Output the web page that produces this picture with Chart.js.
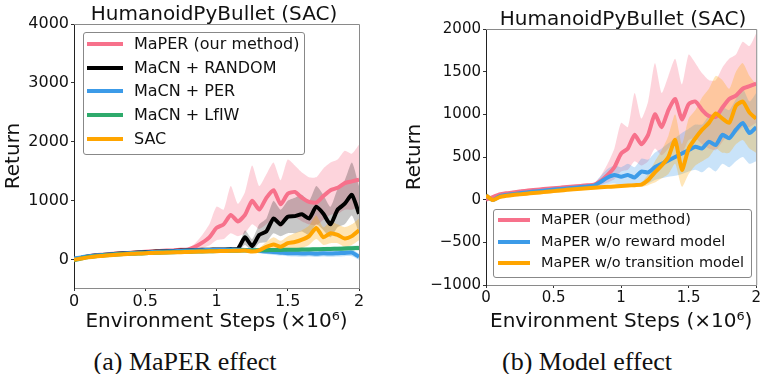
<!DOCTYPE html>
<html>

<head>
  <title>HumanoidPyBullet (SAC)</title>
  <style>
    body { margin: 0; background: #fff; width: 762px; height: 374px; position: relative; overflow: hidden; }
    .box { position: absolute; top: 0; width: 381px; height: 334px; }
    .legend { position: absolute; border: 1px solid #888; border-radius: 3px; background: rgba(255,255,255,0.85);
      font-family: "DejaVu Sans"; color: #111; box-sizing: border-box; }
    .legend div { position: absolute; white-space: nowrap; }
    .legend span { position: absolute; height: 4px; }
    .ttl { position: absolute; font-family: "DejaVu Sans"; font-size: 20px; color: #111; line-height: 1;
      transform: translate(-50%, -50%); white-space: nowrap; }
    .cap { position: absolute; top: 347px; font-family: "Liberation Serif"; font-size: 26px; color: #111;
      transform: translateX(-50%); white-space: nowrap; }
  </style>
</head>

<body>
  <div class="box" style="left:0"><canvas id="chartA"></canvas></div>
  <div class="box" style="left:381px"><canvas id="chartB"></canvas></div>
  <div class="ttl" style="left:214px;top:13px">HumanoidPyBullet (SAC)</div>
  <div class="ttl" style="left:623px;top:18px">HumanoidPyBullet (SAC)</div>
  <div class="legend" id="legA" style="left:83px;top:32px;width:222px;height:123px;font-size:16px"></div>
  <div class="legend" id="legB" style="left:493px;top:209px;width:259px;height:69px;font-size:14.5px"></div>
  <div class="cap" style="left:185px">(a) MaPER effect</div>
  <div class="cap" style="left:587px">(b) Model effect</div>
  <script src="https://cdn.jsdelivr.net/npm/chart.js"></script>
  <script>
    // environment steps (x 10^6)
    const steps = [0, 0.05, 0.1, 0.15, 0.2, 0.25, 0.3, 0.35, 0.4, 0.45, 0.5, 0.55, 0.6, 0.65, 0.7, 0.75, 0.8, 0.85, 0.9, 0.95,
      1.0, 1.05, 1.1, 1.15, 1.2, 1.25, 1.3, 1.35, 1.4, 1.45, 1.5, 1.55, 1.6, 1.65, 1.7, 1.75, 1.8, 1.85, 1.9, 1.95, 2.0];
    const xTicks = [0, 0.5, 1, 1.5, 2];
    const yTicksA = [0, 1000, 2000, 3000, 4000];
    const yTicksB = [-1000, -500, 0, 500, 1000, 1500, 2000];

    // MaPER (our method) - same run in both panels
    const maperMean = [0, 30, 60, 75, 85, 95, 105, 112, 120, 128, 135, 140, 148, 155, 160, 168, 175, 220, 290, 380,
      540, 600, 760, 650, 760, 1000, 850, 1050, 1180, 940, 1120, 1150, 1050, 980, 970, 1080, 1180, 1220, 1300, 1330, 1360];
    const maperLow = [-20, 10, 40, 55, 65, 75, 85, 92, 100, 108, 115, 120, 128, 135, 140, 148, 155, 170, 200, 240,
      330, 350, 450, 400, 450, 600, 520, 600, 700, 550, 700, 720, 650, 600, 580, 680, 760, 780, 850, 850, 900];
    const maperHigh = [20, 50, 80, 95, 105, 115, 125, 132, 140, 148, 155, 160, 168, 175, 180, 188, 195, 280, 420, 600,
      900, 850, 1250, 950, 1150, 1600, 1250, 1450, 1650, 1350, 1700, 1600, 1480, 1400, 1400, 1550, 1650, 1700, 1850, 1800, 1950];

    // (a) baselines
    const randomMean = [10, 30, 55, 70, 80, 90, 100, 108, 115, 122, 130, 135, 140, 145, 150, 155, 160, 165, 170, 170,
      175, 175, 180, 185, 380, 230, 420, 480, 700, 600, 730, 740, 770, 700, 900, 780, 600, 850, 950, 1100, 780];
    const randomLow = [-10, 10, 35, 50, 60, 70, 80, 88, 95, 102, 110, 115, 120, 125, 130, 135, 140, 145, 150, 150,
      150, 150, 150, 150, 250, 150, 280, 300, 450, 400, 450, 450, 480, 420, 600, 500, 380, 550, 600, 750, 450];
    const randomHigh = [30, 50, 75, 90, 100, 110, 120, 128, 135, 142, 150, 155, 160, 165, 170, 175, 180, 185, 190, 190,
      200, 200, 210, 220, 500, 350, 600, 700, 1000, 850, 1000, 1050, 1100, 1000, 1250, 1100, 900, 1200, 1350, 1650, 1250];

    const perMean = [20, 40, 60, 72, 82, 90, 98, 105, 112, 118, 124, 130, 135, 140, 145, 150, 155, 160, 162, 165,
      168, 170, 172, 170, 165, 160, 150, 140, 130, 120, 110, 110, 105, 110, 100, 110, 105, 110, 115, 120, 50];
    const perLow = [5, 25, 45, 57, 67, 75, 83, 90, 97, 103, 109, 115, 120, 125, 130, 135, 140, 145, 147, 150,
      150, 150, 150, 145, 135, 125, 110, 95, 80, 70, 60, 55, 50, 55, 45, 55, 50, 55, 60, 60, 0];
    const perHigh = [35, 55, 75, 87, 97, 105, 113, 120, 127, 133, 139, 145, 150, 155, 160, 165, 170, 175, 177, 180,
      186, 190, 194, 195, 195, 195, 190, 185, 180, 170, 160, 165, 160, 165, 155, 165, 160, 165, 170, 180, 100];

    const lfiwMean = [-10, 20, 45, 60, 70, 80, 88, 95, 100, 105, 110, 115, 120, 124, 128, 132, 135, 138, 141, 144,
      147, 150, 152, 154, 156, 158, 160, 162, 164, 166, 168, 170, 172, 175, 178, 180, 183, 186, 190, 195, 200];
    const lfiwLow = [-25, 5, 30, 45, 55, 65, 73, 80, 85, 90, 95, 100, 105, 109, 113, 117, 120, 123, 126, 129,
      130, 132, 133, 134, 135, 136, 137, 138, 139, 140, 140, 141, 142, 143, 145, 146, 148, 150, 152, 155, 158];
    const lfiwHigh = [5, 35, 60, 75, 85, 95, 103, 110, 115, 120, 125, 130, 135, 139, 143, 147, 150, 153, 156, 159,
      164, 168, 171, 174, 177, 180, 183, 186, 189, 192, 196, 199, 202, 207, 211, 214, 218, 222, 228, 235, 242];

    const sacMean = [0, 20, 40, 55, 65, 75, 85, 92, 100, 105, 110, 115, 118, 122, 125, 128, 132, 135, 140, 142,
      145, 148, 150, 152, 155, 140, 160, 220, 260, 220, 280, 300, 340, 400, 540, 380, 450, 420, 360, 400, 500];
    const sacLow = [-15, 5, 25, 40, 50, 60, 70, 77, 85, 90, 95, 100, 103, 107, 110, 113, 117, 120, 125, 127,
      130, 132, 134, 135, 135, 115, 130, 150, 170, 140, 180, 180, 200, 250, 350, 250, 280, 280, 220, 250, 330];
    const sacHigh = [15, 35, 55, 70, 80, 90, 100, 107, 115, 120, 125, 130, 133, 137, 140, 143, 147, 150, 155, 157,
      160, 164, 166, 170, 180, 170, 200, 300, 380, 320, 400, 450, 500, 580, 750, 550, 650, 600, 550, 600, 700];

    // (b) ablations
    const noRewardMean = [50, -5, 40, 55, 65, 75, 85, 95, 102, 110, 118, 125, 132, 140, 148, 155, 165, 210, 260, 290,
      270, 290, 260, 330, 320, 380, 420, 460, 500, 540, 580, 620, 600, 680, 640, 760, 720, 820, 900, 780, 850];
    const noRewardLow = [30, -25, 20, 35, 45, 55, 65, 75, 82, 90, 98, 105, 112, 120, 128, 135, 140, 160, 180, 190,
      170, 180, 160, 200, 190, 230, 250, 270, 280, 300, 330, 350, 320, 380, 330, 420, 380, 450, 500, 420, 450];
    const noRewardHigh = [70, 15, 60, 75, 85, 95, 105, 115, 122, 130, 138, 145, 152, 160, 168, 175, 190, 280, 360, 400,
      380, 420, 380, 480, 470, 550, 600, 660, 720, 780, 830, 880, 880, 980, 950, 1080, 1050, 1180, 1300, 1150, 1250];

    const noTransMean = [50, -5, 30, 45, 55, 62, 70, 78, 85, 92, 100, 108, 115, 122, 128, 135, 140, 145, 150, 155,
      160, 165, 170, 175, 230, 320, 400, 500, 700, 350, 600, 720, 820, 900, 1010, 950, 900, 1100, 1150, 1020, 950];
    const noTransLow = [30, -25, 10, 25, 35, 42, 50, 58, 65, 72, 80, 88, 95, 102, 108, 115, 120, 125, 130, 135,
      140, 145, 150, 150, 170, 200, 250, 300, 420, 150, 300, 400, 450, 500, 600, 550, 550, 650, 700, 600, 550];
    const noTransHigh = [70, 15, 50, 65, 75, 82, 90, 98, 105, 112, 120, 128, 135, 142, 148, 155, 160, 165, 170, 175,
      180, 185, 190, 200, 300, 450, 580, 750, 1000, 650, 950, 1050, 1200, 1300, 1450, 1400, 1300, 1500, 1600, 1450, 1350];

    const PINK = '#f7718b', BLACK = '#000000', BLUE = '#3c9be8', GREEN = '#2eaa6c', ORANGE = '#ffa500';

    function pts(arr) {
      return steps.map((s, i) => ({ x: s, y: arr[i] }));
    }

    // band (upper filled to lower) + mean line; bands all sit under the lines
    // (higher order is drawn first)
    function series(label, color, bandColor, mean, low, high, ord) {
      return [
        { label: label + ' hi', data: pts(high), borderWidth: 0, pointRadius: 0, fill: '+1', backgroundColor: bandColor, order: ord + 20, tension: 0.2 },
        { label: label + ' lo', data: pts(low), borderWidth: 0, pointRadius: 0, fill: false, order: ord + 20, tension: 0.2 },
        { label: label, data: pts(mean), borderColor: color, borderWidth: 4, pointRadius: 0, fill: false, order: ord, tension: 0.2 }
      ];
    }

    const frame = {
      id: 'frame',
      afterDraw(chart) {
        const { ctx, chartArea: a } = chart;
        ctx.save();
        ctx.strokeStyle = '#8a8a8a';
        ctx.lineWidth = 1;
        ctx.beginPath();
        ctx.moveTo(a.left, a.top + 0.5);
        ctx.lineTo(a.right + 0.5, a.top + 0.5);
        ctx.lineTo(a.right + 0.5, a.bottom);
        ctx.stroke();
        ctx.restore();
      }
    };

    function makeChart(id, datasets, opts) {
      const ctx = document.getElementById(id).getContext('2d');
      return new Chart(ctx, {
        type: 'line',
        data: { datasets: datasets },
        options: {
          responsive: true,
          maintainAspectRatio: false,
          animation: false,
          layout: { padding: { left: 0, right: opts.padRight, top: opts.padTop, bottom: 0 } },
          plugins: {
            legend: { display: false },
            tooltip: { enabled: false }
          },
          scales: {
            x: {
              type: 'linear', min: 0, max: 2,
              afterBuildTicks: (s) => { s.ticks = xTicks.map(v => ({ value: v })); },
              afterFit: (s) => { s.height = opts.xHeight; },
              ticks: {
                color: '#111', padding: 1, maxRotation: 0, font: { family: 'DejaVu Sans', size: opts.tickSize },
                callback: (v) => String(v)
              },
              grid: { display: true, drawOnChartArea: false, tickLength: 3, color: '#333' },
              border: { color: '#8a8a8a' },
              title: {
                display: true, text: 'Environment Steps (\u00d710\u2076)', color: '#111',
                font: { family: 'DejaVu Sans', size: opts.labelSize }, padding: { top: 0, bottom: 0 }
              }
            },
            y: {
              min: opts.yMin, max: opts.yMax,
              afterBuildTicks: (s) => { s.ticks = opts.yTicks.map(v => ({ value: v })); },
              afterFit: (s) => { s.width = opts.yWidth; },
              ticks: {
                color: '#111', padding: 2, font: { family: 'DejaVu Sans', size: opts.tickSize },
                callback: (v) => String(v).replace('-', '\u2212')
              },
              grid: { display: true, drawOnChartArea: false, tickLength: 3, color: '#333' },
              border: { color: '#222' },
              title: {
                display: true, text: 'Return', color: '#111',
                font: { family: 'DejaVu Sans', size: opts.labelSize }, padding: { top: opts.yTitlePad, bottom: 0 }
              }
            }
          }
        },
        plugins: [frame]
      });
    }

    const legendA = [['MaPER (our method)', PINK], ['MaCN + RANDOM', BLACK], ['MaCN + PER', BLUE], ['MaCN + LfIW', GREEN], ['SAC', ORANGE]];
    const legendB = [['MaPER (our method)', PINK], ['MaPER w/o reward model', BLUE], ['MaPER w/o transition model', ORANGE]];

    function buildLegend(id, items, top0, gap, lineX, lineW, textX) {
      const el = document.getElementById(id);
      items.forEach((it, i) => {
        const y = top0 + i * gap;
        const sw = document.createElement('span');
        sw.style.cssText = `left:${lineX}px;top:${y - 2}px;width:${lineW}px;background:${it[1]}`;
        const tx = document.createElement('div');
        tx.textContent = it[0];
        tx.style.cssText = `left:${textX}px;top:${y}px;transform:translateY(-55%)`;
        el.appendChild(sw);
        el.appendChild(tx);
      });
    }

    document.addEventListener('DOMContentLoaded', () => {
      makeChart('chartA', [
        ...series('MaPER (our method)', PINK, 'rgba(247,113,139,0.3)', maperMean, maperLow, maperHigh, 9),
        ...series('MaCN + RANDOM', BLACK, 'rgba(0,0,0,0.22)', randomMean, randomLow, randomHigh, 7),
        ...series('MaCN + PER', BLUE, 'rgba(60,155,232,0.3)', perMean, perLow, perHigh, 5),
        ...series('MaCN + LfIW', GREEN, 'rgba(46,170,108,0.3)', lfiwMean, lfiwLow, lfiwHigh, 3),
        ...series('SAC', ORANGE, 'rgba(255,165,0,0.3)', sacMean, sacLow, sacHigh, 1)
      ], {
        padRight: 22, padTop: 24, tickSize: 16, labelSize: 20,
        xHeight: 46, yWidth: 74, yTitlePad: 2, yMin: -480, yMax: 4000, yTicks: yTicksA
      });

      makeChart('chartB', [
        ...series('MaPER (our method)', PINK, 'rgba(247,113,139,0.3)', maperMean, maperLow, maperHigh, 5),
        ...series('MaPER w/o reward model', BLUE, 'rgba(60,155,232,0.28)', noRewardMean, noRewardLow, noRewardHigh, 3),
        ...series('MaPER w/o transition model', ORANGE, 'rgba(255,165,0,0.28)', noTransMean, noTransLow, noTransHigh, 1)
      ], {
        padRight: 1, padTop: 29, tickSize: 15, labelSize: 20,
        xHeight: 49, yWidth: 105, yTitlePad: 22, yMin: -1000, yMax: 2000, yTicks: yTicksB
      });

      buildLegend('legA', legendA, 11, 23.7, 3, 36, 50);
      buildLegend('legB', legendB, 10, 21.7, 4, 32, 47);
    });
  </script>
</body>

</html>
